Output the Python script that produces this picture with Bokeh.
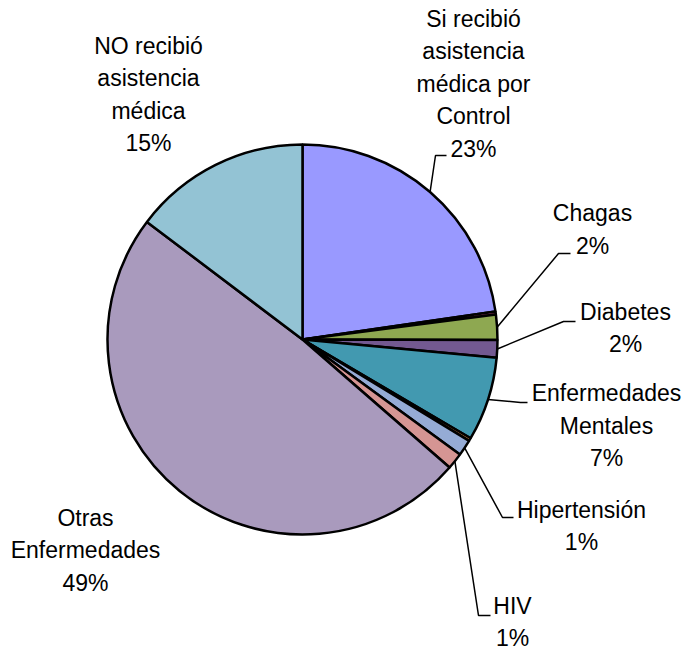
import math
from bokeh.plotting import figure
from bokeh.models import ColumnDataSource, Range1d
from bokeh.core.properties import value
from bokeh.embed import file_html
from bokeh.resources import INLINE

# ---- data -------------------------------------------------------------
categories = [
    "Si recibió\nasistencia\nmédica por\nControl",
    "Otro (a)",
    "Chagas",
    "Diabetes",
    "Enfermedades\nMentales",
    "Otro (b)",
    "Hipertensión",
    "HIV",
    "Otras\nEnfermedades",
    "NO recibió\nasistencia\nmédica",
]
shares = [22.7, 0.25, 2.1, 1.45, 6.95, 0.25, 1.35, 1.35, 48.9, 14.7]
pct_labels = ["23%", "", "2%", "2%", "7%", "", "1%", "1%", "49%", "15%"]
colors = ["#9999FF", "#C2417F", "#8EA851", "#735991", "#4299B0",
          "#F79646", "#95ABD5", "#D59593", "#A99ABD", "#93C3D4"]

# ---- layout (screen pixels -> data units) -----------------------------
W, H = 691, 651
def dx(sx):
    return sx
def dy(sy):
    return H - sy

CX, CY, R = dx(302), dy(339), 195

total = sum(shares)
starts, ends = [], []
acc = 0.0
for s in shares:
    a0 = acc / total * 360.0
    acc += s
    a1 = acc / total * 360.0
    starts.append(math.radians(90 - a0))
    ends.append(math.radians(90 - a1))

src = ColumnDataSource(dict(start=starts, end=ends, color=colors, name=categories))

p = figure(width=W, height=H, x_range=Range1d(0, W), y_range=Range1d(0, H),
           x_axis_type=None, y_axis_type=None, toolbar_location=None,
           output_backend="svg", min_border=0)
p.grid.visible = False
p.outline_line_color = None
p.background_fill_color = "white"

p.wedge(x=CX, y=CY, radius=R, start_angle="start", end_angle="end",
        direction="clock", fill_color="color", line_color="black",
        line_width=2.5, source=src)

# label block centres (screen px) and leader elbows for labelled slices
label_pos = {
    0: (473, 83), 2: (592, 229), 3: (625, 327.5), 4: (606, 425),
    6: (581, 525.5), 7: (512, 621.5), 8: (85, 549.5), 9: (148, 94),
}
elbows = {
    0: [(435, 155), (446, 155)],
    2: [(558, 253), (570, 253)],
    3: [(563, 321), (575, 321)],
    4: [(520, 402), (527, 402)],
    6: [(502, 517), (513, 517)],
    7: [(478, 615), (490, 615)],
}

xs, ys = [], []
for i, pts in elbows.items():
    mid = (starts[i] + ends[i]) / 2
    x0 = CX + R * math.cos(mid)
    y0 = CY + R * math.sin(mid)
    xs.append([x0] + [dx(a) for a, b in pts])
    ys.append([y0] + [dy(b) for a, b in pts])
p.multi_line(xs=xs, ys=ys, line_color="black", line_width=1.5)

tx, ty, tt = [], [], []
for i, (sx, sy) in label_pos.items():
    tx.append(dx(sx))
    ty.append(dy(sy))
    tt.append(categories[i] + "\n" + pct_labels[i])
p.text(x=tx, y=ty, text=tt, text_font=value("Liberation Sans"),
       text_font_size="23px", text_align="center", text_baseline="middle",
       text_line_height=1.25, text_color="black")

open("out.html", "w").write(file_html(p, INLINE))
